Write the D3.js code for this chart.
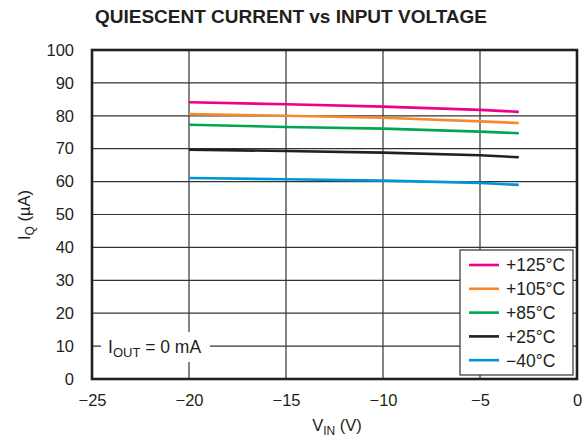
<!DOCTYPE html>
<html><head><meta charset="utf-8">
<script src="https://cdn.jsdelivr.net/npm/d3@7"></script>
<style>body{margin:0;background:#fff}svg{display:block;font-family:"Liberation Sans",Arial,sans-serif}</style>
</head><body>
<script>
const vin = [-20, -15, -10, -5, -3];
const s125 = [84.1, 83.5, 82.8, 81.8, 81.2];
const s105 = [80.5, 80.0, 79.4, 78.3, 77.8];
const s85 = [77.3, 76.6, 76.1, 75.2, 74.7];
const s25 = [69.7, 69.3, 68.8, 68.0, 67.4];
const sm40 = [61.1, 60.7, 60.3, 59.6, 59.0];
const seriesNames = ["+125°C", "+105°C", "+85°C", "+25°C", "\u221240°C"];
const seriesColors = ["#ec008c", "#f7882f", "#00a650", "#231f20", "#0096d6"];
const xTicks = [-25, -20, -15, -10, -5, 0];
const yTicks = [0, 10, 20, 30, 40, 50, 60, 70, 80, 90, 100];
const allSeries = [s125, s105, s85, s25, sm40];

const W = 583, H = 443;
const L = 92, R = 577, T = 50, B = 379;
const svg = d3.select("body").append("svg").attr("width", W).attr("height", H);
const x = d3.scaleLinear().domain([-25, 0]).range([L, R]);
const y = d3.scaleLinear().domain([0, 100]).range([B, T]);
const fmt = d => d < 0 ? "\u2212" + Math.abs(d) : String(d);
const FF = "Liberation Sans, Arial, sans-serif";

// grid
svg.append("g").selectAll("line").data(xTicks.slice(1, -1)).join("line")
  .attr("x1", d => x(d)).attr("x2", d => x(d)).attr("y1", T).attr("y2", B)
  .attr("stroke", "#333").attr("stroke-width", 1.2);
svg.append("g").selectAll("line").data(yTicks.slice(1, -1)).join("line")
  .attr("x1", L).attr("x2", R).attr("y1", d => y(d)).attr("y2", d => y(d))
  .attr("stroke", "#333").attr("stroke-width", 1.2);

// axes labels via d3 axes
const ax = svg.append("g").attr("transform", `translate(0,${B})`)
  .call(d3.axisBottom(x).tickValues(xTicks).tickFormat(fmt).tickSize(0).tickPadding(15));
ax.select(".domain").remove();
ax.selectAll("text").attr("font-size", 16.5).attr("fill", "#231f20").attr("font-family", FF);
const ay = svg.append("g").attr("transform", `translate(${L},0)`)
  .call(d3.axisLeft(y).tickValues(yTicks).tickFormat(fmt).tickSize(0).tickPadding(18));
ay.select(".domain").remove();
ay.selectAll("text").attr("font-size", 16.5).attr("fill", "#231f20").attr("font-family", FF);

// lines
const line = d3.line().x((d, i) => x(vin[i])).y(d => y(d));
allSeries.forEach((s, k) => {
  svg.append("path").datum(s).attr("d", line).attr("fill", "none")
    .attr("stroke", seriesColors[k]).attr("stroke-width", 2.6);
});

// annotation
const ann = svg.append("g");
ann.append("rect").attr("x", 101).attr("y", 332).attr("width", 109).attr("height", 30).attr("fill", "#fff");
const at = ann.append("text").attr("x", 108).attr("y", y(10) + 6.5).attr("font-size", 17.5).attr("fill", "#231f20");
at.append("tspan").text("I");
at.append("tspan").attr("font-size", 13).attr("dy", 4).text("OUT");
at.append("tspan").attr("dy", -4).text(" = 0 mA");

// legend
const lg = svg.append("g");
lg.append("rect").attr("x", 460).attr("y", 250).attr("width", 113).attr("height", 125)
  .attr("fill", "#fff").attr("stroke", "#333").attr("stroke-width", 1.2);
seriesNames.forEach((n, k) => {
  const yy = 265 + k * 23.8;
  lg.append("line").attr("x1", 469).attr("x2", 499).attr("y1", yy).attr("y2", yy)
    .attr("stroke", seriesColors[k]).attr("stroke-width", 2.6);
  lg.append("text").attr("x", 506).attr("y", yy + 6.3).attr("font-size", 17.5).attr("fill", "#231f20").text(n);
});

// border
svg.append("rect").attr("x", L).attr("y", T).attr("width", R - L).attr("height", B - T)
  .attr("fill", "none").attr("stroke", "#231f20").attr("stroke-width", 2.6);

// title
svg.append("text").attr("x", 291).attr("y", 22.5).attr("text-anchor", "middle")
  .attr("font-size", 19).attr("font-weight", "bold").attr("fill", "#231f20")
  .text("QUIESCENT CURRENT vs INPUT VOLTAGE");

// x title
const xt = svg.append("text").attr("x", 337).attr("y", 431).attr("text-anchor", "middle").attr("font-size", 16.5).attr("fill", "#231f20");
xt.append("tspan").text("V");
xt.append("tspan").attr("font-size", 12).attr("dy", 4).text("IN");
xt.append("tspan").attr("dy", -4).text(" (V)");

// y title
const yt = svg.append("text").attr("transform", "translate(30,215) rotate(-90)").attr("text-anchor", "middle").attr("font-size", 16.5).attr("fill", "#231f20");
yt.append("tspan").text("I");
yt.append("tspan").attr("font-size", 12).attr("dy", 4).text("Q");
yt.append("tspan").attr("dy", -4).text(" (\u00b5A)");
</script>
</body></html>
